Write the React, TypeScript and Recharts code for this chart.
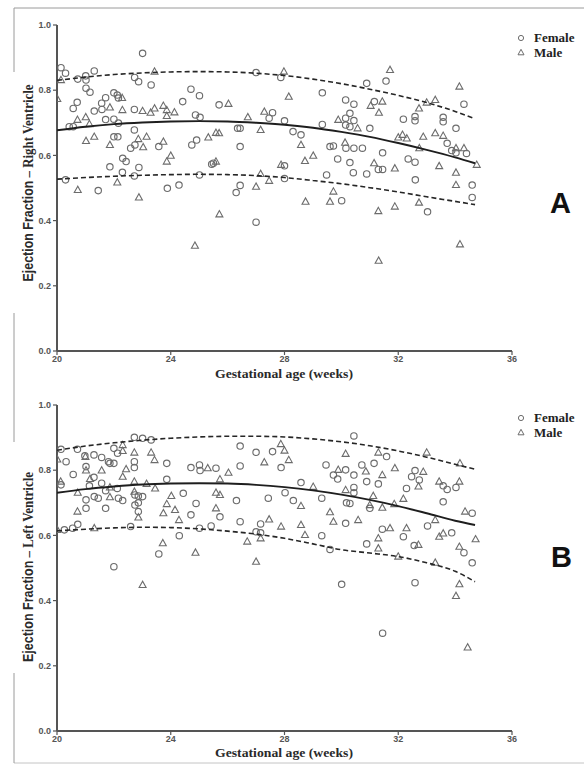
import React from "react";
import { ScatterChart, Scatter, XAxis, YAxis } from "recharts";

// ---------- Panel A : Right ventricle ----------
const femaleA: [number, number][] = [
  [23.01, 0.913], [20.14, 0.869], [20.3, 0.852], [20.73, 0.834], [21.02, 0.831], [21.01, 0.844], [21.31, 0.859],
  [22.73, 0.839], [22.87, 0.826], [23.31, 0.816], [21.02, 0.806], [21.16, 0.794], [20.57, 0.744], [20.71, 0.763],
  [21.31, 0.736], [21.57, 0.76], [21.58, 0.741], [21.71, 0.777], [22.0, 0.792], [22.12, 0.785], [22.16, 0.776],
  [22.72, 0.741], [24.42, 0.765], [24.71, 0.803], [25.01, 0.783], [24.87, 0.724], [25.03, 0.717], [25.7, 0.755],
  [27.0, 0.854], [27.87, 0.839], [27.58, 0.731], [27.46, 0.714], [28.0, 0.706], [26.35, 0.683], [26.44, 0.683],
  [28.3, 0.673], [26.44, 0.627], [20.43, 0.688], [20.57, 0.688], [21.71, 0.71], [22.0, 0.711], [22.16, 0.699],
  [22.0, 0.657], [22.14, 0.657], [22.72, 0.678], [22.59, 0.622], [22.74, 0.632], [23.58, 0.627], [24.74, 0.632],
  [24.91, 0.647], [22.31, 0.591], [22.43, 0.581], [21.86, 0.565], [22.3, 0.548], [22.88, 0.563], [25.5, 0.576],
  [25.44, 0.573], [28.0, 0.568], [20.3, 0.525], [22.72, 0.537], [21.45, 0.492], [23.88, 0.499], [24.29, 0.509],
  [26.3, 0.486], [26.44, 0.508], [25.01, 0.54], [28.0, 0.529], [27.0, 0.395],
  [31.57, 0.828], [30.89, 0.821], [29.33, 0.792], [30.15, 0.77], [30.44, 0.757], [31.16, 0.765], [30.3, 0.729],
  [34.31, 0.757], [28.58, 0.663], [29.33, 0.695], [30.15, 0.714], [30.44, 0.707], [30.15, 0.693], [30.3, 0.688],
  [31.0, 0.683], [32.18, 0.711], [32.59, 0.719], [32.59, 0.706], [33.58, 0.717], [33.58, 0.703], [34.03, 0.683],
  [33.72, 0.637], [29.6, 0.627], [29.72, 0.629], [30.16, 0.622], [30.44, 0.622], [30.74, 0.622], [29.87, 0.589],
  [30.3, 0.578], [31.45, 0.608], [32.35, 0.589], [32.59, 0.579], [31.3, 0.557], [31.45, 0.557], [34.03, 0.608],
  [34.4, 0.606], [33.88, 0.615], [30.42, 0.547], [30.89, 0.543], [29.48, 0.54], [32.6, 0.525], [34.6, 0.509],
  [34.6, 0.471], [30.01, 0.461], [33.03, 0.427],
];

const maleA: [number, number][] = [
  [20.14, 0.831], [23.43, 0.857], [20.01, 0.773], [21.86, 0.747], [22.29, 0.776], [22.3, 0.739], [23.01, 0.736],
  [23.29, 0.731], [23.43, 0.744], [23.74, 0.752], [23.86, 0.739], [23.86, 0.721], [24.13, 0.732], [26.03, 0.758],
  [26.71, 0.717], [27.98, 0.857], [28.15, 0.78], [27.29, 0.734], [27.16, 0.678], [25.59, 0.669], [25.7, 0.668],
  [20.72, 0.709], [21.01, 0.717], [21.14, 0.696], [21.02, 0.644], [21.31, 0.657], [21.86, 0.632], [22.86, 0.65],
  [23.15, 0.657], [23.03, 0.625], [23.74, 0.642], [24.0, 0.599], [23.86, 0.581], [25.32, 0.655], [25.59, 0.581],
  [27.88, 0.571], [22.12, 0.517], [20.73, 0.494], [22.88, 0.471], [27.0, 0.504], [27.16, 0.543], [27.46, 0.522],
  [25.71, 0.419], [24.85, 0.323],
  [31.71, 0.862], [34.15, 0.811], [31.03, 0.752], [31.44, 0.765], [31.32, 0.731], [33.0, 0.762], [33.3, 0.77],
  [32.73, 0.744], [28.58, 0.632], [29.89, 0.709], [30.57, 0.683], [32.0, 0.655], [32.15, 0.663], [32.3, 0.652],
  [32.88, 0.657], [33.3, 0.668], [33.58, 0.66], [32.74, 0.622], [30.13, 0.639], [29.01, 0.599], [28.72, 0.583],
  [31.15, 0.576], [31.88, 0.56], [33.44, 0.567], [34.03, 0.622], [34.31, 0.622], [34.76, 0.571], [34.03, 0.547],
  [34.03, 0.509], [29.72, 0.489], [28.74, 0.458], [29.6, 0.458], [31.3, 0.429], [31.88, 0.443], [32.73, 0.455],
  [34.17, 0.327], [31.31, 0.277],
];

const fitA: [number, number][] = [
  [20, 0.677], [21, 0.688], [22, 0.696], [23, 0.701], [24, 0.704], [25, 0.705], [26, 0.704], [27, 0.7],
  [28, 0.694], [29, 0.685], [30, 0.672], [31, 0.657], [32, 0.638], [33, 0.617], [34, 0.594], [34.7, 0.576],
];
const upperA: [number, number][] = [
  [20, 0.83], [21, 0.84], [22, 0.848], [23, 0.853], [24, 0.856], [25, 0.857], [26, 0.856], [27, 0.852],
  [28, 0.845], [29, 0.834], [30, 0.82], [31, 0.803], [32, 0.784], [33, 0.762], [34, 0.735], [34.7, 0.712],
];
const lowerA: [number, number][] = [
  [20, 0.527], [21, 0.532], [22, 0.536], [23, 0.539], [24, 0.541], [25, 0.542], [26, 0.541], [27, 0.538],
  [28, 0.532], [29, 0.523], [30, 0.513], [31, 0.501], [32, 0.488], [33, 0.473], [34, 0.459], [34.7, 0.449],
];

// ---------- Panel B : Left ventricle ----------
const femaleB: [number, number][] = [
  [20.14, 0.864], [20.72, 0.864], [20.32, 0.826], [20.98, 0.844], [21.3, 0.847], [21.57, 0.839], [21.81, 0.826],
  [21.86, 0.821], [22.0, 0.821], [22.0, 0.867], [22.13, 0.852], [22.72, 0.901], [23.01, 0.898], [23.31, 0.893],
  [22.72, 0.826], [23.86, 0.821], [20.57, 0.787], [21.02, 0.811], [21.3, 0.778], [22.72, 0.808], [23.86, 0.772],
  [24.71, 0.808], [25.01, 0.816], [25.03, 0.799], [25.59, 0.806], [26.44, 0.874], [27.0, 0.855], [27.58, 0.857],
  [27.88, 0.808], [26.44, 0.813], [20.14, 0.755], [21.14, 0.752], [21.57, 0.76], [21.71, 0.737], [21.02, 0.709],
  [21.31, 0.719], [21.45, 0.714], [21.71, 0.683], [22.12, 0.744], [22.16, 0.714], [22.31, 0.707], [22.74, 0.724],
  [22.86, 0.721], [23.01, 0.719], [22.74, 0.693], [22.86, 0.7], [22.86, 0.673], [24.44, 0.729], [24.89, 0.698],
  [24.71, 0.663], [25.73, 0.657], [26.31, 0.707], [27.43, 0.714], [28.02, 0.731], [28.31, 0.707], [21.02, 0.683],
  [20.73, 0.634], [20.55, 0.622], [20.26, 0.617], [22.59, 0.627], [25.01, 0.622], [25.42, 0.629], [24.3, 0.599],
  [26.44, 0.642], [27.16, 0.635], [27.0, 0.611], [27.16, 0.608], [23.58, 0.543], [22.0, 0.504],
  [30.44, 0.905], [31.59, 0.842], [29.46, 0.816], [29.72, 0.785], [29.87, 0.773], [30.15, 0.801], [30.44, 0.785],
  [30.72, 0.816], [31.15, 0.821], [30.89, 0.765], [31.3, 0.758], [32.59, 0.799], [32.47, 0.78], [32.74, 0.77],
  [33.58, 0.752], [33.72, 0.741], [34.03, 0.747], [28.58, 0.762], [32.29, 0.744], [29.31, 0.714], [30.44, 0.747],
  [30.44, 0.731], [30.3, 0.698], [30.18, 0.7], [31.0, 0.683], [33.58, 0.703], [34.6, 0.668], [30.15, 0.637],
  [29.31, 0.599], [31.44, 0.619], [33.03, 0.629], [32.18, 0.596], [33.88, 0.608], [32.56, 0.569], [30.89, 0.574],
  [29.6, 0.557], [34.31, 0.547], [34.6, 0.516], [30.01, 0.45], [32.59, 0.455], [31.45, 0.3],
];

const maleB: [number, number][] = [
  [20.01, 0.833], [21.0, 0.841], [22.31, 0.877], [22.31, 0.859], [22.72, 0.854], [23.31, 0.854], [23.43, 0.831],
  [21.02, 0.799], [21.57, 0.799], [21.16, 0.773], [22.43, 0.803], [22.31, 0.78], [22.72, 0.765], [25.3, 0.806],
  [26.03, 0.792], [25.73, 0.772], [27.29, 0.824], [27.87, 0.88], [28.0, 0.86], [28.15, 0.831], [20.13, 0.765],
  [21.86, 0.747], [20.73, 0.731], [21.86, 0.717], [22.72, 0.734], [22.86, 0.655], [23.15, 0.758], [23.45, 0.744],
  [24.02, 0.721], [23.86, 0.696], [23.74, 0.668], [24.15, 0.678], [24.29, 0.647], [25.59, 0.731], [25.73, 0.724],
  [25.59, 0.683], [20.72, 0.673], [21.31, 0.622], [20.01, 0.617], [27.46, 0.649], [27.88, 0.627], [27.16, 0.591],
  [26.69, 0.581], [23.72, 0.576], [24.87, 0.547], [27.0, 0.519], [23.01, 0.448],
  [30.15, 0.85], [31.3, 0.854], [33.0, 0.854], [34.17, 0.821], [29.89, 0.801], [30.86, 0.796], [31.44, 0.785],
  [31.88, 0.806], [32.88, 0.795], [32.71, 0.75], [33.44, 0.765], [34.15, 0.765], [29.01, 0.749], [28.58, 0.69],
  [30.15, 0.739], [31.12, 0.721], [31.86, 0.696], [32.18, 0.712], [31.0, 0.693], [31.44, 0.685], [34.35, 0.673],
  [29.6, 0.671], [29.72, 0.642], [30.59, 0.647], [28.58, 0.632], [28.72, 0.601], [31.71, 0.622], [32.29, 0.622],
  [33.3, 0.647], [31.3, 0.591], [33.44, 0.596], [33.58, 0.606], [34.72, 0.588], [32.71, 0.571], [31.3, 0.56],
  [34.15, 0.565], [32.0, 0.535], [33.3, 0.516], [34.15, 0.45], [34.03, 0.414], [34.44, 0.256],
];

const fitB: [number, number][] = [
  [20, 0.731], [21, 0.742], [22, 0.75], [23, 0.756], [24, 0.759], [25, 0.76], [26, 0.759], [27, 0.755],
  [28, 0.748], [29, 0.738], [30, 0.725], [31, 0.709], [32, 0.69], [33, 0.668], [34, 0.645], [34.7, 0.632],
];
const upperB: [number, number][] = [
  [20, 0.861], [21, 0.874], [22, 0.884], [23, 0.892], [24, 0.898], [25, 0.902], [26, 0.904], [27, 0.904],
  [28, 0.902], [29, 0.896], [30, 0.887], [31, 0.875], [32, 0.859], [33, 0.84], [34, 0.818], [34.7, 0.803],
];
const lowerB: [number, number][] = [
  [20, 0.614], [21, 0.619], [22, 0.623], [23, 0.625], [24, 0.624], [25, 0.62], [26, 0.613], [27, 0.604],
  [28, 0.591], [29, 0.574], [30, 0.556], [31, 0.546], [32, 0.535], [33, 0.516], [34, 0.49], [34.7, 0.458],
];

const xTicks = [20, 24, 28, 32, 36];
const yTicks = [0, 0.2, 0.4, 0.6, 0.8, 1.0];
const seriesNames = ["Female", "Male"];
const xLabel = "Gestational age (weeks)";

const toPts = (arr: [number, number][]) => arr.map(([x, y]) => ({ x, y }));

const MARK = "#6c6c6c";
const AXIS = "#555";

const CircleMark = (p: any) => (
  <circle cx={p.cx} cy={p.cy} r={3.2} fill="none" stroke={MARK} strokeWidth={1.15} />
);
const TriMark = (p: any) => (
  <polygon
    points={`${p.cx},${p.cy - 3.8} ${p.cx - 3.5},${p.cy + 2.5} ${p.cx + 3.5},${p.cy + 2.5}`}
    fill="none"
    stroke={MARK}
    strokeWidth={1.1}
  />
);
const NoMark = () => <g />;

type PanelProps = {
  female: [number, number][];
  male: [number, number][];
  fit: [number, number][];
  upper: [number, number][];
  lower: [number, number][];
  height: number;
  bottom: number;
};

function Panel({ female, male, fit, upper, lower, height, bottom }: PanelProps) {
  const tickStyle = { fontSize: 9, fontWeight: 700, fill: AXIS, fontFamily: "Liberation Sans, Arial, sans-serif" };
  return (
    <ScatterChart width={584} height={height} margin={{ top: 25, right: 72, bottom, left: 17 }}>
      <XAxis
        type="number"
        dataKey="x"
        domain={[20, 36]}
        ticks={xTicks}
        allowDataOverflow
        height={20}
        axisLine={{ stroke: AXIS, strokeWidth: 2 }}
        tickLine={{ stroke: AXIS, strokeWidth: 1.2 }}
        tickSize={4}
        tickMargin={1}
        tick={tickStyle}
        interval={0}
      />
      <YAxis
        type="number"
        dataKey="y"
        domain={[0, 1]}
        ticks={yTicks}
        allowDataOverflow
        width={40}
        axisLine={{ stroke: AXIS, strokeWidth: 2 }}
        tickLine={{ stroke: AXIS, strokeWidth: 1.2 }}
        tickSize={4}
        tickMargin={2}
        tick={tickStyle}
        tickFormatter={(v: number) => v.toFixed(1)}
        interval={0}
      />
      <Scatter name={seriesNames[0]} data={toPts(female)} shape={CircleMark} isAnimationActive={false} />
      <Scatter name={seriesNames[1]} data={toPts(male)} shape={TriMark} isAnimationActive={false} />
      <Scatter
        data={toPts(upper)}
        shape={NoMark}
        line={{ stroke: "#262626", strokeWidth: 1.6, strokeDasharray: "5 3", fill: "none" }}
        lineType="joint"
        lineJointType="monotoneX"
        legendType="none"
        isAnimationActive={false}
      />
      <Scatter
        data={toPts(fit)}
        shape={NoMark}
        line={{ stroke: "#1e1e1e", strokeWidth: 1.9, fill: "none" }}
        lineType="joint"
        lineJointType="monotoneX"
        legendType="none"
        isAnimationActive={false}
      />
      <Scatter
        data={toPts(lower)}
        shape={NoMark}
        line={{ stroke: "#262626", strokeWidth: 1.6, strokeDasharray: "5 3", fill: "none" }}
        lineType="joint"
        lineJointType="monotoneX"
        legendType="none"
        isAnimationActive={false}
      />
    </ScatterChart>
  );
}

const SANS = "Liberation Sans, Arial, sans-serif";
const SERIF = "Liberation Serif, Times New Roman, serif";

function Legend({ y }: { y: number }) {
  return (
    <g>
      <circle cx={521} cy={y} r={2.6} fill="none" stroke={MARK} strokeWidth={1} />
      <text x={534} y={y + 4.3} fontFamily={SERIF} fontWeight={700} fontSize={13} fill="#222">
        {seriesNames[0]}
      </text>
      <polygon
        points={`521,${y + 11.3} 518,${y + 16.8} 524,${y + 16.8}`}
        fill="none"
        stroke={MARK}
        strokeWidth={1}
      />
      <text x={534} y={y + 19} fontFamily={SERIF} fontWeight={700} fontSize={13} fill="#222">
        {seriesNames[1]}
      </text>
    </g>
  );
}

function YLabel({ cx, cy, len, side }: { cx: number; cy: number; len: number; side: string }) {
  return (
    <text
      transform={`translate(${cx},${cy}) rotate(-90)`}
      textAnchor="middle"
      dominantBaseline="central"
      fontSize={14.5}
      fontWeight={700}
      fill="#2a2a2a"
      textLength={len}
      lengthAdjust="spacingAndGlyphs"
    >
      <tspan fontFamily={SANS} fontSize={14}>Ejection Fraction</tspan>
      <tspan fontFamily={SERIF}>{` – ${side} Ventricle`}</tspan>
    </text>
  );
}

export default function App() {
  return (
    <div style={{ position: "absolute", left: 0, top: 0, width: 584, height: 765, background: "#fff" }}>
      <div style={{ position: "absolute", left: 0, top: 0 }}>
        <Panel female={femaleA} male={maleA} fit={fitA} upper={upperA} lower={lowerA} height={380} bottom={9} />
      </div>
      <div style={{ position: "absolute", left: 0, top: 380 }}>
        <Panel female={femaleB} male={maleB} fit={fitB} upper={upperB} lower={lowerB} height={385} bottom={14} />
      </div>
      <svg
        width={584}
        height={765}
        style={{ position: "absolute", left: 0, top: 0, pointerEvents: "none" }}
      >
        {/* frame */}
        <line x1={14} y1={8} x2={584} y2={8} stroke="#9a9a9a" strokeWidth={1} />
        <line x1={14} y1={763} x2={584} y2={763} stroke="#c4c4c4" strokeWidth={1} />
        <line x1={14} y1={8} x2={14} y2={72} stroke="#9a9a9a" strokeWidth={1} />
        <line x1={14} y1={313} x2={14} y2={442} stroke="#9a9a9a" strokeWidth={1} />
        <line x1={14} y1={673} x2={14} y2={763} stroke="#9a9a9a" strokeWidth={1} />

        <YLabel cx={28} cy={183} len={197} side="Right" />
        <YLabel cx={28} cy={567} len={190} side="Left" />

        <text x={284} y={378} textAnchor="middle" fontFamily={SERIF} fontWeight={700} fontSize={13.5} fill="#2a2a2a" textLength={138} lengthAdjust="spacingAndGlyphs">
          {xLabel}
        </text>
        <text x={284} y={757} textAnchor="middle" fontFamily={SERIF} fontWeight={700} fontSize={13.5} fill="#2a2a2a" textLength={138} lengthAdjust="spacingAndGlyphs">
          {xLabel}
        </text>

        <Legend y={38} />
        <Legend y={418} />

        <text x={550} y={213} fontFamily={SANS} fontWeight={700} fontSize={29} fill="#111">A</text>
        <text x={551} y={567} fontFamily={SANS} fontWeight={700} fontSize={29} fill="#111">B</text>
      </svg>
    </div>
  );
}
